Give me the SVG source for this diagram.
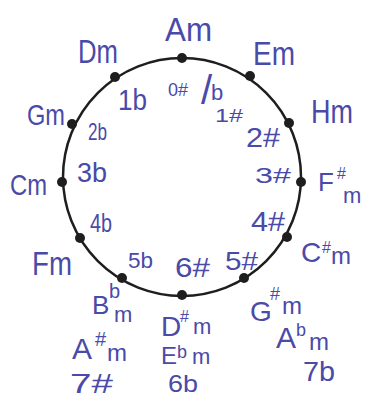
<svg xmlns="http://www.w3.org/2000/svg" width="367" height="398" viewBox="0 0 367 398">
<style>
text{font-family:"Liberation Sans","DejaVu Sans",sans-serif;fill:#4a4aa8;}
.dot{fill:#1e1e1e;}
.ring{fill:none;stroke:#1e1e1e;stroke-width:2.5;}
</style>
<rect width="367" height="398" fill="#ffffff"/>
<g id="connectors">
<circle class="ring" cx="182" cy="177" r="119"/>
</g>
<g id="node-Am">
<circle class="dot" cx="182" cy="58" r="5"/>
<text x="165" y="41" font-size="34" textLength="47" lengthAdjust="spacingAndGlyphs">Am</text>
<text font-size="18"><tspan x="168" y="96">0</tspan><tspan x="178" y="96">#</tspan><tspan x="201" y="104" font-size="40">/</tspan><tspan x="211" y="100" font-size="22">b</tspan></text>
</g>
<g id="node-Em">
<circle class="dot" cx="250" cy="76" r="5"/>
<text x="253" y="65" font-size="34" textLength="42" lengthAdjust="spacingAndGlyphs">Em</text>
<text x="215" y="122" font-size="18" textLength="28" lengthAdjust="spacingAndGlyphs">1#</text>
</g>
<g id="node-Hm">
<circle class="dot" cx="289" cy="123" r="5"/>
<text x="311" y="123" font-size="34" textLength="42" lengthAdjust="spacingAndGlyphs">Hm</text>
<text x="246" y="147" font-size="28" textLength="34" lengthAdjust="spacingAndGlyphs">2#</text>
</g>
<g id="node-Fsm">
<circle class="dot" cx="301" cy="182" r="5"/>
<text font-size="26"><tspan x="318" y="191">F</tspan><tspan x="337" y="179" font-size="16">#</tspan><tspan x="343" y="203" font-size="22">m</tspan></text>
<text x="255" y="183" font-size="22" textLength="36" lengthAdjust="spacingAndGlyphs">3#</text>
</g>
<g id="node-Csm">
<circle class="dot" cx="287" cy="237" r="5"/>
<text font-size="28"><tspan x="301" y="262">C</tspan><tspan x="322" y="253" font-size="16">#</tspan><tspan x="331" y="264" font-size="24">m</tspan></text>
<text x="251" y="231" font-size="28" textLength="34" lengthAdjust="spacingAndGlyphs">4#</text>
</g>
<g id="node-Gsm">
<circle class="dot" cx="244" cy="278" r="5"/>
<text x="225" y="270" font-size="26" textLength="33" lengthAdjust="spacingAndGlyphs">5#</text>
<text font-size="28"><tspan x="250" y="321">G</tspan><tspan x="270" y="300" font-size="18">#</tspan><tspan x="282" y="314" font-size="24">m</tspan></text>
<text font-size="30"><tspan x="276" y="348">A</tspan><tspan x="296" y="336" font-size="18">b</tspan><tspan x="309" y="350" font-size="24">m</tspan></text>
<text x="303" y="381" font-size="28" textLength="32" lengthAdjust="spacingAndGlyphs">7b</text>
</g>
<g id="node-Dsm">
<circle class="dot" cx="182" cy="295" r="5"/>
<text x="175" y="277" font-size="28" textLength="35" lengthAdjust="spacingAndGlyphs">6#</text>
<text font-size="28"><tspan x="161" y="336">D</tspan><tspan x="180" y="322" font-size="16">#</tspan><tspan x="193" y="334" font-size="22">m</tspan></text>
<text font-size="24"><tspan x="161" y="364">E</tspan><tspan x="177" y="358" font-size="18">b</tspan><tspan x="192" y="364" font-size="22">m</tspan></text>
<text x="168" y="392" font-size="24" textLength="30" lengthAdjust="spacingAndGlyphs">6b</text>
</g>
<g id="node-Bbm">
<circle class="dot" cx="122" cy="278" r="5"/>
<text x="128" y="268" font-size="22" textLength="25" lengthAdjust="spacingAndGlyphs">5b</text>
<text font-size="26"><tspan x="92" y="314">B</tspan><tspan x="109" y="298" font-size="20">b</tspan><tspan x="114" y="322" font-size="22">m</tspan></text>
<text font-size="30"><tspan x="72" y="359">A</tspan><tspan x="95" y="346" font-size="20">#</tspan><tspan x="107" y="361" font-size="24">m</tspan></text>
<text x="70" y="393" font-size="28" textLength="43" lengthAdjust="spacingAndGlyphs">7#</text>
</g>
<g id="node-Fm">
<circle class="dot" cx="80" cy="238" r="5"/>
<text x="32" y="275" font-size="34" textLength="40" lengthAdjust="spacingAndGlyphs">Fm</text>
<text x="90" y="232" font-size="26" textLength="22" lengthAdjust="spacingAndGlyphs">4b</text>
</g>
<g id="node-Cm">
<circle class="dot" cx="62" cy="182" r="5"/>
<text x="10" y="195" font-size="30" textLength="37" lengthAdjust="spacingAndGlyphs">Cm</text>
<text x="77" y="182" font-size="28" textLength="30" lengthAdjust="spacingAndGlyphs">3b</text>
</g>
<g id="node-Gm">
<circle class="dot" cx="72" cy="124" r="5"/>
<text x="27" y="125" font-size="30" textLength="38" lengthAdjust="spacingAndGlyphs">Gm</text>
<text x="88" y="140" font-size="24" textLength="19" lengthAdjust="spacingAndGlyphs">2b</text>
</g>
<g id="node-Dm">
<circle class="dot" cx="115" cy="77" r="5"/>
<text x="78" y="63" font-size="34" textLength="40" lengthAdjust="spacingAndGlyphs">Dm</text>
<text x="118" y="110" font-size="30" textLength="29" lengthAdjust="spacingAndGlyphs">1b</text>
</g>
</svg>
